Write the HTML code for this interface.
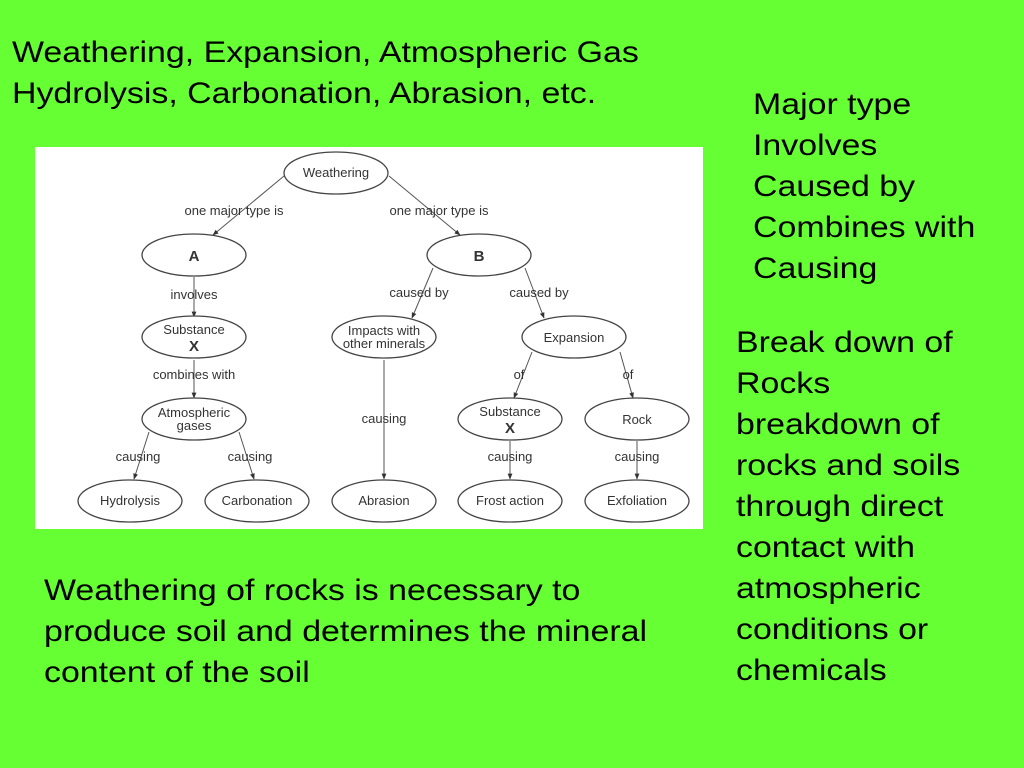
<!DOCTYPE html>
<html><head><style>
body{margin:0;width:1024px;height:768px;background:#66ff33;position:relative;overflow:hidden;font-family:"Liberation Sans",sans-serif;color:#000}
.t{position:absolute;font-size:30px;line-height:41px;white-space:nowrap;transform:scaleX(1.13);transform-origin:0 0}
svg text{font-family:"Liberation Sans",sans-serif;fill:#333}
</style></head><body>
<div class="t" style="left:12px;top:32px">Weathering, Expansion, Atmospheric Gas<br>Hydrolysis, Carbonation, Abrasion, etc.</div>
<div class="t" style="left:753px;top:84px">Major type<br>Involves<br>Caused by<br>Combines with<br>Causing</div>
<div class="t" style="left:736px;top:322px">Break down of<br>Rocks<br>breakdown of<br>rocks and soils<br>through direct<br>contact with<br>atmospheric<br>conditions or<br>chemicals</div>
<div class="t" style="left:44px;top:570px">Weathering of rocks is necessary to<br>produce soil and determines the mineral<br>content of the soil</div>
<svg style="position:absolute;left:0;top:0" width="1024" height="768">
<defs><marker id="a" viewBox="0 0 10 10" refX="9" refY="5" markerWidth="6" markerHeight="6" orient="auto"><path d="M0,1 L10,5 L0,9 z" fill="#333"/></marker></defs>
<rect x="35" y="147" width="668" height="382" fill="#fff"/>
<g stroke="#555" stroke-width="1" fill="none" marker-end="url(#a)">
<line x1="284" y1="176" x2="213" y2="235"/>
<line x1="389" y1="176" x2="460" y2="235"/>
<line x1="194" y1="277" x2="194" y2="317"/>
<line x1="194" y1="360" x2="194" y2="398"/>
<line x1="149" y1="432" x2="134" y2="479"/>
<line x1="239" y1="432" x2="254" y2="479"/>
<line x1="433" y1="268" x2="412" y2="318"/>
<line x1="525" y1="268" x2="544" y2="318"/>
<line x1="384" y1="360" x2="384" y2="479"/>
<line x1="532" y1="352" x2="514" y2="398"/>
<line x1="620" y1="352" x2="633" y2="398"/>
<line x1="510" y1="441" x2="510" y2="479"/>
<line x1="637" y1="441" x2="637" y2="479"/>
</g>
<g stroke="#444" stroke-width="1.3" fill="#fff">
<ellipse cx="336" cy="173" rx="52" ry="21"/>
<ellipse cx="194" cy="255" rx="52" ry="21"/>
<ellipse cx="479" cy="255" rx="52" ry="21"/>
<ellipse cx="194" cy="337" rx="52" ry="21"/>
<ellipse cx="384" cy="337" rx="52" ry="21"/>
<ellipse cx="574" cy="337" rx="52" ry="21"/>
<ellipse cx="194" cy="419" rx="52" ry="21"/>
<ellipse cx="510" cy="419" rx="52" ry="21"/>
<ellipse cx="637" cy="419" rx="52" ry="21"/>
<ellipse cx="130" cy="501" rx="52" ry="21"/>
<ellipse cx="257" cy="501" rx="52" ry="21"/>
<ellipse cx="384" cy="501" rx="52" ry="21"/>
<ellipse cx="510" cy="501" rx="52" ry="21"/>
<ellipse cx="637" cy="501" rx="52" ry="21"/>
</g>
<g font-size="13" text-anchor="middle">
<text x="336" y="177">Weathering</text>
<text x="194" y="261" font-size="15" font-weight="bold">A</text>
<text x="479" y="261" font-size="15" font-weight="bold">B</text>
<text x="194" y="334">Substance</text>
<text x="194" y="351" font-size="15" font-weight="bold">X</text>
<text x="384" y="335">Impacts with</text>
<text x="384" y="348">other minerals</text>
<text x="574" y="342">Expansion</text>
<text x="194" y="417">Atmospheric</text>
<text x="194" y="430">gases</text>
<text x="510" y="416">Substance</text>
<text x="510" y="433" font-size="15" font-weight="bold">X</text>
<text x="637" y="424">Rock</text>
<text x="130" y="505">Hydrolysis</text>
<text x="257" y="505">Carbonation</text>
<text x="384" y="505">Abrasion</text>
<text x="510" y="505">Frost action</text>
<text x="637" y="505">Exfoliation</text>
<g font-size="13">
<text x="234" y="215">one major type is</text>
<text x="439" y="215">one major type is</text>
<text x="194" y="299">involves</text>
<text x="419" y="297">caused by</text>
<text x="539" y="297">caused by</text>
<text x="194" y="379">combines with</text>
<text x="384" y="423">causing</text>
<text x="519" y="379">of</text>
<text x="628" y="379">of</text>
<text x="138" y="461">causing</text>
<text x="250" y="461">causing</text>
<text x="510" y="461">causing</text>
<text x="637" y="461">causing</text>
</g></g>
</svg>
</body></html>
